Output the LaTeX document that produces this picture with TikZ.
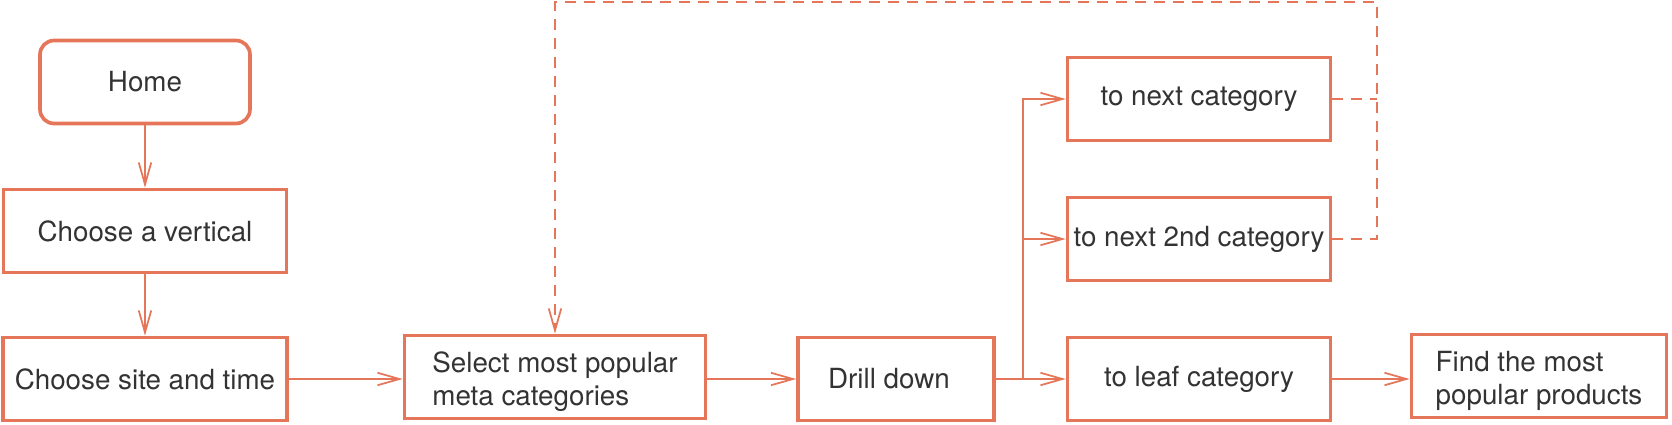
\documentclass[tikz,border=0pt]{standalone}
\usepackage{fontspec}
\setmainfont{TeX Gyre Heros}
\usetikzlibrary{arrows.meta}
\definecolor{flowline}{RGB}{230,118,90}
\definecolor{flowtext}{RGB}{51,51,51}
\begin{document}
\begin{tikzpicture}[x=0.02cm, y=-0.02cm, every node/.style = {shape=rectangle, draw=flowline, line width=2.1pt, text=flowtext, align=left, inner xsep=1pt, minimum height=1.66cm, font=\fontsize{15.8}{18.8}\selectfont}]
			\tikzset{ flow/.style = {draw=flowline, line width=1pt, -{Straight Barb[length=0.44cm, width=0.25cm]}} }
			\tikzset{ back/.style = {flow, dash pattern=on 0.22cm off 0.16cm} }
			\useasboundingbox (0,0) rectangle (1672,424);
			\node [rounded corners=0.28cm, minimum width=4.2cm] (home) at (145,82) {Home};
			\node [minimum width=5.66cm] (vertical) at (145,231) {Choose a vertical};
			\node [minimum width=5.68cm] (site) at (145,379) {Choose site and time};
			\node [minimum width=6.02cm] (select) at (555,377) {\rule{0pt}{17pt}Select most popular\\meta categories};
			\node [minimum width=3.92cm] (drill) at (896,379) {Drill down\hspace{8pt}};
			\node [minimum width=5.26cm] (next) at (1199,99) {to next category};
			\node [minimum width=5.26cm] (second) at (1199,239) {to next 2nd category};
			\node [minimum width=5.26cm] (leaf) at (1199,379) {to leaf category};
			\node [minimum width=5.1cm] (find) at (1539,376) {\rule{0pt}{17pt}Find the most\\popular products};
			\coordinate (fork) at (1023,379);
			\coordinate (loop) at (1377,2);
			\draw [flow] (home) -- (vertical);
			\draw [flow] (vertical) -- (site);
			\draw [flow] (site) -- (site -| select.west);
			\draw [flow] (select.east |- drill) -- (drill);
			\draw [flow] (drill) -- (leaf);
			\draw [flow] (fork) |- (next);
			\draw [flow] (fork |- second) -- (second);
			\draw [flow] (leaf) -- (leaf -| find.west);
			\draw [back, -] (next.east) -- (next.east -| loop);
			\draw [back] (second.east) -| (loop) -| (select.north);
		\end{tikzpicture}
\end{document}
